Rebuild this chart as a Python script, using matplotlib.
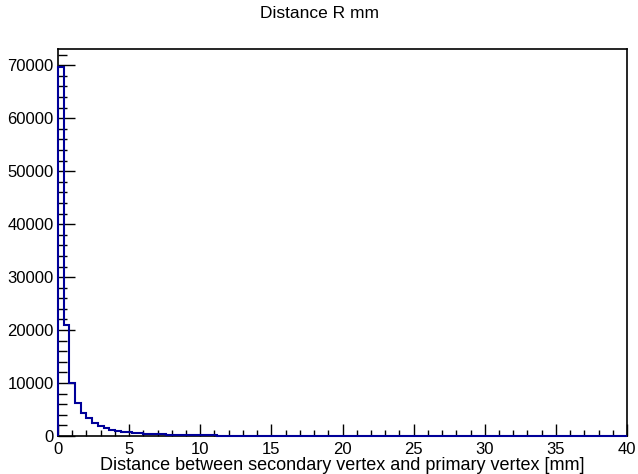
import numpy as np
import matplotlib.pyplot as plt
from matplotlib.ticker import MultipleLocator

# 100 bins of 0.4 mm between 0 and 40 mm
bin_lo = 0.0
bin_hi = 40.0
n_bins = 100

counts_head = [69600, 20900, 10000, 6300, 4400, 3400, 2400, 1900, 1500, 1150,
               900, 800, 700, 600, 520, 450, 390, 340, 300, 260,
               230, 200, 175, 155, 135, 120, 105, 95, 85, 75,
               65, 58, 52, 46, 41, 37, 33, 30, 27, 24,
               22, 20, 18, 16, 15, 13, 12, 11, 10, 9]
counts_tail = [8, 8, 7, 6, 6, 5, 5, 4, 4, 4,
               3, 3, 3, 3, 2, 2, 2, 2, 2, 2,
               1, 1, 1, 1, 1, 1, 1, 1, 1, 1,
               1, 1, 0, 1, 0, 1, 0, 0, 1, 0,
               0, 0, 1, 0, 0, 0, 0, 0, 0, 0]

counts = np.array(counts_head + counts_tail, dtype=float)
edges = np.linspace(bin_lo, bin_hi, n_bins + 1)

plt.rcParams['font.family'] = ['Liberation Sans', 'DejaVu Sans']

fig = plt.figure(figsize=(6.38, 4.74), dpi=100)
ax = fig.add_axes([58 / 638, 38 / 474, 569 / 638, 387 / 474])

ax.stairs(counts, edges, color='#000099', lw=1.5, baseline=0, zorder=3, clip_on=False)

ax.set_xlim(bin_lo, bin_hi)
ax.set_ylim(0, counts.max() * 1.05)

ax.xaxis.set_major_locator(MultipleLocator(5))
ax.xaxis.set_minor_locator(MultipleLocator(1))
ax.yaxis.set_major_locator(MultipleLocator(10000))
ax.yaxis.set_minor_locator(MultipleLocator(2000))

ax.tick_params(axis='x', which='major', direction='in', length=8.5, width=1, labelsize=12, pad=4)
ax.tick_params(axis='x', which='minor', direction='in', length=4.2, width=1)
ax.tick_params(axis='y', which='major', direction='in', length=12.5, width=1, labelsize=12, pad=3)
ax.tick_params(axis='y', which='minor', direction='in', length=6.2, width=1)

for s in ax.spines.values():
    s.set_linewidth(1.2)

fig.text(342 / 638, 1 - 465 / 474, 'Distance between secondary vertex and primary vertex [mm]',
         ha='center', va='center', fontsize=13)
fig.text(0.5, 1 - 14 / 474, 'Distance R mm', ha='center', va='center', fontsize=12.5)

fig.savefig('out.png', dpi=100)
